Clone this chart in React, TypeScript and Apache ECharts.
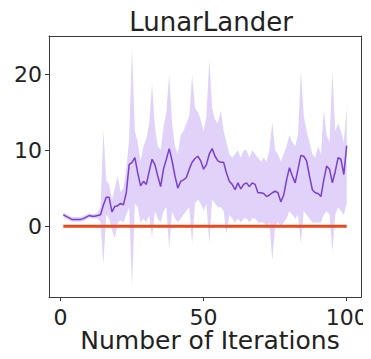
import React, { useEffect, useRef } from "react";
import * as echarts from "echarts";

const iterations: number[] = Array.from({ length: 100 }, (_, i) => i + 1);

const meanReward: number[] = [
  1.5, 1.3, 1.1, 0.9, 0.9, 0.9, 0.9, 1.0, 1.2, 1.4,
  1.3, 1.3, 1.4, 1.5, 2.8, 3.8, 3.8, 1.9, 2.6, 2.7,
  3.0, 2.8, 4.4, 8.1, 8.4, 9.0, 7.0, 5.3, 5.9, 5.5,
  7.2, 8.8, 8.1, 6.6, 5.2, 7.5, 8.8, 10.2, 8.6, 6.6,
  5.0, 5.9, 6.1, 6.4, 7.5, 8.4, 8.9, 9.2, 8.6, 7.5,
  8.1, 9.5, 10.2, 9.2, 8.6, 8.4, 8.4, 7.0, 5.9, 5.5,
  4.8, 5.7, 4.9, 5.5, 5.7, 5.2, 5.7, 5.5, 4.4, 4.4,
  4.3, 3.9, 4.1, 4.4, 4.6, 4.4, 3.2, 4.1, 6.1, 7.7,
  6.6, 5.7, 7.5, 9.3, 9.2, 8.6, 6.6, 4.8, 4.4, 4.3,
  3.9, 6.1, 7.9, 7.5, 5.7, 7.2, 9.0, 8.8, 6.8, 10.6,
];

const upperBand: number[] = [
  1.8, 1.6, 1.4, 1.2, 1.2, 1.2, 1.2, 1.3, 1.5, 1.7,
  1.6, 1.6, 1.8, 2.5, 12.6, 6.0, 5.5, 3.5, 5.0, 6.6,
  4.5, 5.0, 7.5, 11.5, 23.5, 12.5, 11.0, 8.5, 10.5, 11.5,
  13.5, 18.8, 13.0, 10.5, 10.0, 13.0, 15.0, 19.9, 13.5, 10.5,
  9.5, 12.0, 12.5, 13.5, 14.5, 19.9, 15.5, 15.0, 14.0, 12.5,
  14.5, 21.9, 15.5, 14.0, 13.5, 15.2, 12.5, 11.0, 9.5, 9.0,
  9.5, 10.0, 9.0, 10.0, 10.0, 9.0, 10.0, 9.5, 9.0, 8.5,
  9.0, 8.5, 10.0, 13.7, 10.0, 9.5, 8.5, 9.5, 10.5, 12.0,
  11.0, 10.5, 12.0, 20.4, 14.5, 12.5, 11.0, 9.5, 9.0, 10.5,
  9.5, 15.2, 12.0, 11.0, 20.4, 12.5, 13.5, 12.5, 11.0, 15.5,
];

const lowerBand: number[] = [
  1.2, 1.0, 0.8, 0.6, 0.6, 0.6, 0.6, 0.7, 0.9, 1.1,
  1.0, 1.0, 1.0, 0.5, -5.0, 1.5, 1.0, -0.5, -1.6, 0.5,
  0.8, 0.5, 1.5, 2.5, -8.1, 3.0, 2.5, 0.5, 1.0, 0.5,
  1.5, -1.4, 2.0, 1.0, 0.5, 2.0, 2.5, -3.0, 2.0, 1.0,
  0.5, 1.0, 1.5, 2.0, 2.5, -2.3, 3.0, 3.5, 3.0, 2.0,
  3.0, -2.3, 3.5, 3.0, 2.5, 2.5, 2.0, -1.0, 1.5, 1.0,
  0.5, 1.0, 0.5, 1.0, 1.0, 0.5, 1.0, 1.0, 0.5, 0.5,
  0.5, 0.0, 0.5, -4.5, 0.0, 0.5, 0.0, 0.5, 1.0, 2.0,
  1.5, 1.0, 1.5, -2.3, 2.0, 1.5, 1.0, 0.5, 0.5, 0.5,
  0.5, 1.5, 2.0, 1.5, -3.4, 1.5, 2.5, 2.0, 1.5, 3.0,
];

const baselineReward: number[] = iterations.map(() => 0);

const xTicks: number[] = [0, 50, 100];
const yTicks: number[] = [0, 10, 20];

const FONT = "DejaVu Sans";
const SPINE = "#3a3a3a";

export default function App() {
  const ref = useRef<HTMLDivElement>(null);

  useEffect(() => {
    if (!ref.current) return;
    const chart = echarts.init(ref.current, undefined, { renderer: "svg" });
    const pair = (arr: number[]) => iterations.map((x, i) => [x, arr[i]]);
    const bandData = iterations.map((x, i) => [x, lowerBand[i], upperBand[i]]);

    const hiddenAxisBits = {
      axisTick: { show: false },
      axisLabel: { show: false },
      splitLine: { show: false },
    };

    chart.setOption({
      animation: false,
      backgroundColor: "#ffffff",
      title: [
        {
          text: "LunarLander",
          left: 206,
          top: 4,
          textAlign: "center",
          textStyle: { fontFamily: FONT, fontSize: 26, fontWeight: "normal", color: "#222" },
        },
        {
          text: "Number of Iterations",
          left: 205,
          top: 326,
          padding: [2, 5, 2, 5],
          textAlign: "center",
          textStyle: { fontFamily: FONT, fontSize: 25, fontWeight: "normal", color: "#222" },
        },
      ],
      grid: {
        left: 49,
        right: 10,
        top: 36,
        bottom: 62,
        containLabel: false,
        outerBoundsMode: "none",
      },
      xAxis: [
        {
          type: "value",
          min: -4,
          max: 105,
          position: "bottom",
          axisLine: { show: true, onZero: false, lineStyle: { color: SPINE, width: 1 } },
          axisTick: { show: true, customValues: xTicks, length: 4, lineStyle: { color: SPINE } },
          axisLabel: {
            customValues: xTicks,
            margin: 9,
            fontFamily: FONT,
            fontSize: 22,
            color: "#222",
          },
          splitLine: { show: false },
        },
        {
          type: "value",
          min: -4,
          max: 105,
          position: "top",
          axisLine: { show: true, onZero: false, lineStyle: { color: SPINE, width: 1 } },
          ...hiddenAxisBits,
        },
      ],
      yAxis: [
        {
          type: "value",
          min: -9.3,
          max: 25,
          position: "left",
          axisLine: { show: true, onZero: false, lineStyle: { color: SPINE, width: 1 } },
          axisTick: { show: true, customValues: yTicks, length: 4, lineStyle: { color: SPINE } },
          axisLabel: {
            customValues: yTicks,
            margin: 7,
            fontFamily: FONT,
            fontSize: 22,
            color: "#222",
          },
          splitLine: { show: false },
        },
        {
          type: "value",
          min: -9.3,
          max: 25,
          position: "right",
          axisLine: { show: true, onZero: false, lineStyle: { color: SPINE, width: 1 } },
          ...hiddenAxisBits,
        },
      ],
      series: [
        {
          type: "custom",
          data: bandData,
          silent: true,
          z: 1,
          renderItem: (params: any, api: any) => {
            if (params.dataIndex !== 0) return null;
            const pts: number[][] = [];
            for (let i = 0; i < bandData.length; i++) {
              pts.push(api.coord([bandData[i][0], bandData[i][2]]));
            }
            for (let i = bandData.length - 1; i >= 0; i--) {
              pts.push(api.coord([bandData[i][0], bandData[i][1]]));
            }
            return {
              type: "polygon",
              shape: { points: pts },
              style: { fill: "#e0d2f8", stroke: "none" },
            };
          },
        },
        {
          type: "line",
          data: pair(baselineReward),
          symbol: "none",
          lineStyle: { color: "#e84a1e", width: 3 },
          z: 3,
        },
        {
          type: "line",
          data: pair(meanReward),
          symbol: "none",
          lineStyle: { color: "#7a3ed3", width: 1.5 },
          z: 4,
        },
      ],
    });
    return () => chart.dispose();
  }, []);

  return <div ref={ref} style={{ width: 371, height: 359, margin: -8 }} />;
}
